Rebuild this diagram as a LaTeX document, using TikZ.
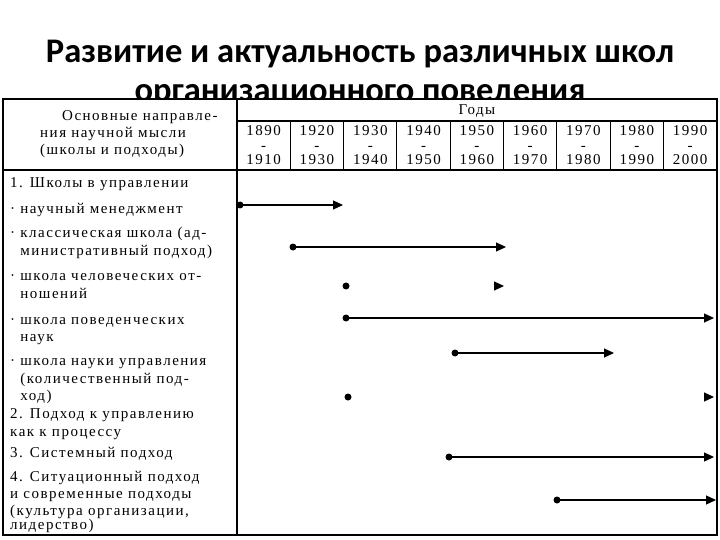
\documentclass[tikz,border=0pt]{standalone}
\usepackage{fontspec}
\setmainfont{Liberation Serif}
\newfontfamily\titlefont{Carlito}
\newfontfamily\tabfont{Liberation Serif}[LetterSpace=10]
\usetikzlibrary{arrows.meta}
\tikzset{
  ttl/.style={anchor=base, inner sep=0pt, font=\titlefont\bfseries\fontsize{34.5}{40}\selectfont},
  txt/.style={anchor=base west, inner sep=0pt, font=\tabfont\fontsize{15}{17}\selectfont},
  yr/.style={anchor=base, inner sep=0pt, font=\tabfont\fontsize{15}{17}\selectfont},
  grid/.style={line width=1.4pt},
  dotn/.style={circle, fill=black, inner sep=0pt, minimum size=7pt},
  arr/.style={line width=1.2pt, -{Triangle[length=10pt,width=9pt]}, shorten <=-1pt},
  tip/.style={-{Triangle[length=10pt,width=9pt]}, line width=1.2pt}
}
\begin{document}
\begin{tikzpicture}[x=1pt,y=-1pt]
\useasboundingbox (0,0) rectangle (720,540);
\fill[white] (0,0) rectangle (720,540);
% title
\node[ttl] (t1) at (360,63) {Развитие и актуальность различных школ};
\begin{scope}
\clip (0,60) rectangle (720,99);
\node[ttl] (t2) at (360,102) {\raisebox{0pt}[\height][0pt]{организационного поведения}};
\end{scope}
% table
\draw[grid, fill=white] (3,99) rectangle (717,535);
\draw[grid] (237,99) -- (237,535);
\draw[grid] (237,121) -- (717,121);
\draw[grid] (3,170) -- (717,170);
\foreach \i in {1,...,8} {
  \draw[line width=1pt] ({237+53.3*\i},121) -- ({237+53.3*\i},170);
}
% header text
\node[txt] (h1) at (62,121) {Основные направле-};
\node[txt] (h2) at (40,138) {ния научной мысли};
\node[txt] (h3) at (40,155) {(школы и подходы)};
\node[yr] (years) at (477,115) {Годы};
\foreach \a/\b [count=\i from 0] in {1890/1910,1920/1930,1930/1940,1940/1950,1950/1960,1960/1970,1970/1980,1980/1990,1990/2000} {
  \node[yr] (ya\i) at ({263.65+53.3*\i},136) {\a};
  \node[yr] (yd\i) at ({263.65+53.3*\i},151) {-};
  \node[yr] (yb\i) at ({263.65+53.3*\i},165) {\b};
}
% row text
\node[txt] (r1) at (10,188) {1. Школы в управлении};
\node[txt] (r2) at (10,214) {· научный менеджмент};
\node[txt] (r3a) at (10,237) {· классическая школа (ад-};
\node[txt] (r3b) at (10,255) {\hphantom{· }министративный подход)};
\node[txt] (r4a) at (10,280) {· школа человеческих от-};
\node[txt] (r4b) at (10,298) {\hphantom{· }ношений};
\node[txt] (r5a) at (10,324) {· школа поведенческих};
\node[txt] (r5b) at (10,341) {\hphantom{· }наук};
\node[txt] (r6a) at (10,365) {· школа науки управления};
\node[txt] (r6b) at (10,383) {\hphantom{· }(количественный под-};
\node[txt] (r6c) at (10,400) {\hphantom{· }ход)};
\node[txt] (r7a) at (10,418) {2. Подход к управлению};
\node[txt] (r7b) at (10,436) {как к процессу};
\node[txt] (r8) at (10,457) {3. Системный подход};
\node[txt] (r9a) at (10,481) {4. Ситуационный подход};
\node[txt] (r9b) at (10,498) {и современные подходы};
\node[txt] (r9c) at (10,515) {(культура организации,};
\node[txt] (r9d) at (10,529) {лидерство)};
% timelines
\node[dotn] (d1) at (240,205) {};
\coordinate (e1) at (343,205);
\draw[arr] (d1.center) -- (e1);
\node[dotn] (d2) at (293,247) {};
\coordinate (e2) at (506,247);
\draw[arr] (d2.center) -- (e2);
\node[dotn] (d3) at (346,286) {};
\coordinate (s3) at (494,286);
\coordinate (e3) at (504,286);
\draw[tip] (s3) -- (e3);
\node[dotn] (d4) at (346,318) {};
\coordinate (e4) at (714,318);
\draw[arr] (d4.center) -- (e4);
\node[dotn] (d5) at (455,353) {};
\coordinate (e5) at (614,353);
\draw[arr] (d5.center) -- (e5);
\node[dotn] (d6) at (348,397) {};
\coordinate (s6) at (704,397);
\coordinate (e6) at (714,397);
\draw[tip] (s6) -- (e6);
\node[dotn] (d7) at (449,457) {};
\coordinate (e7) at (714,457);
\draw[arr] (d7.center) -- (e7);
\node[dotn] (d8) at (557,500) {};
\coordinate (e8) at (716,500);
\draw[arr] (d8.center) -- (e8);
\end{tikzpicture}
\end{document}
